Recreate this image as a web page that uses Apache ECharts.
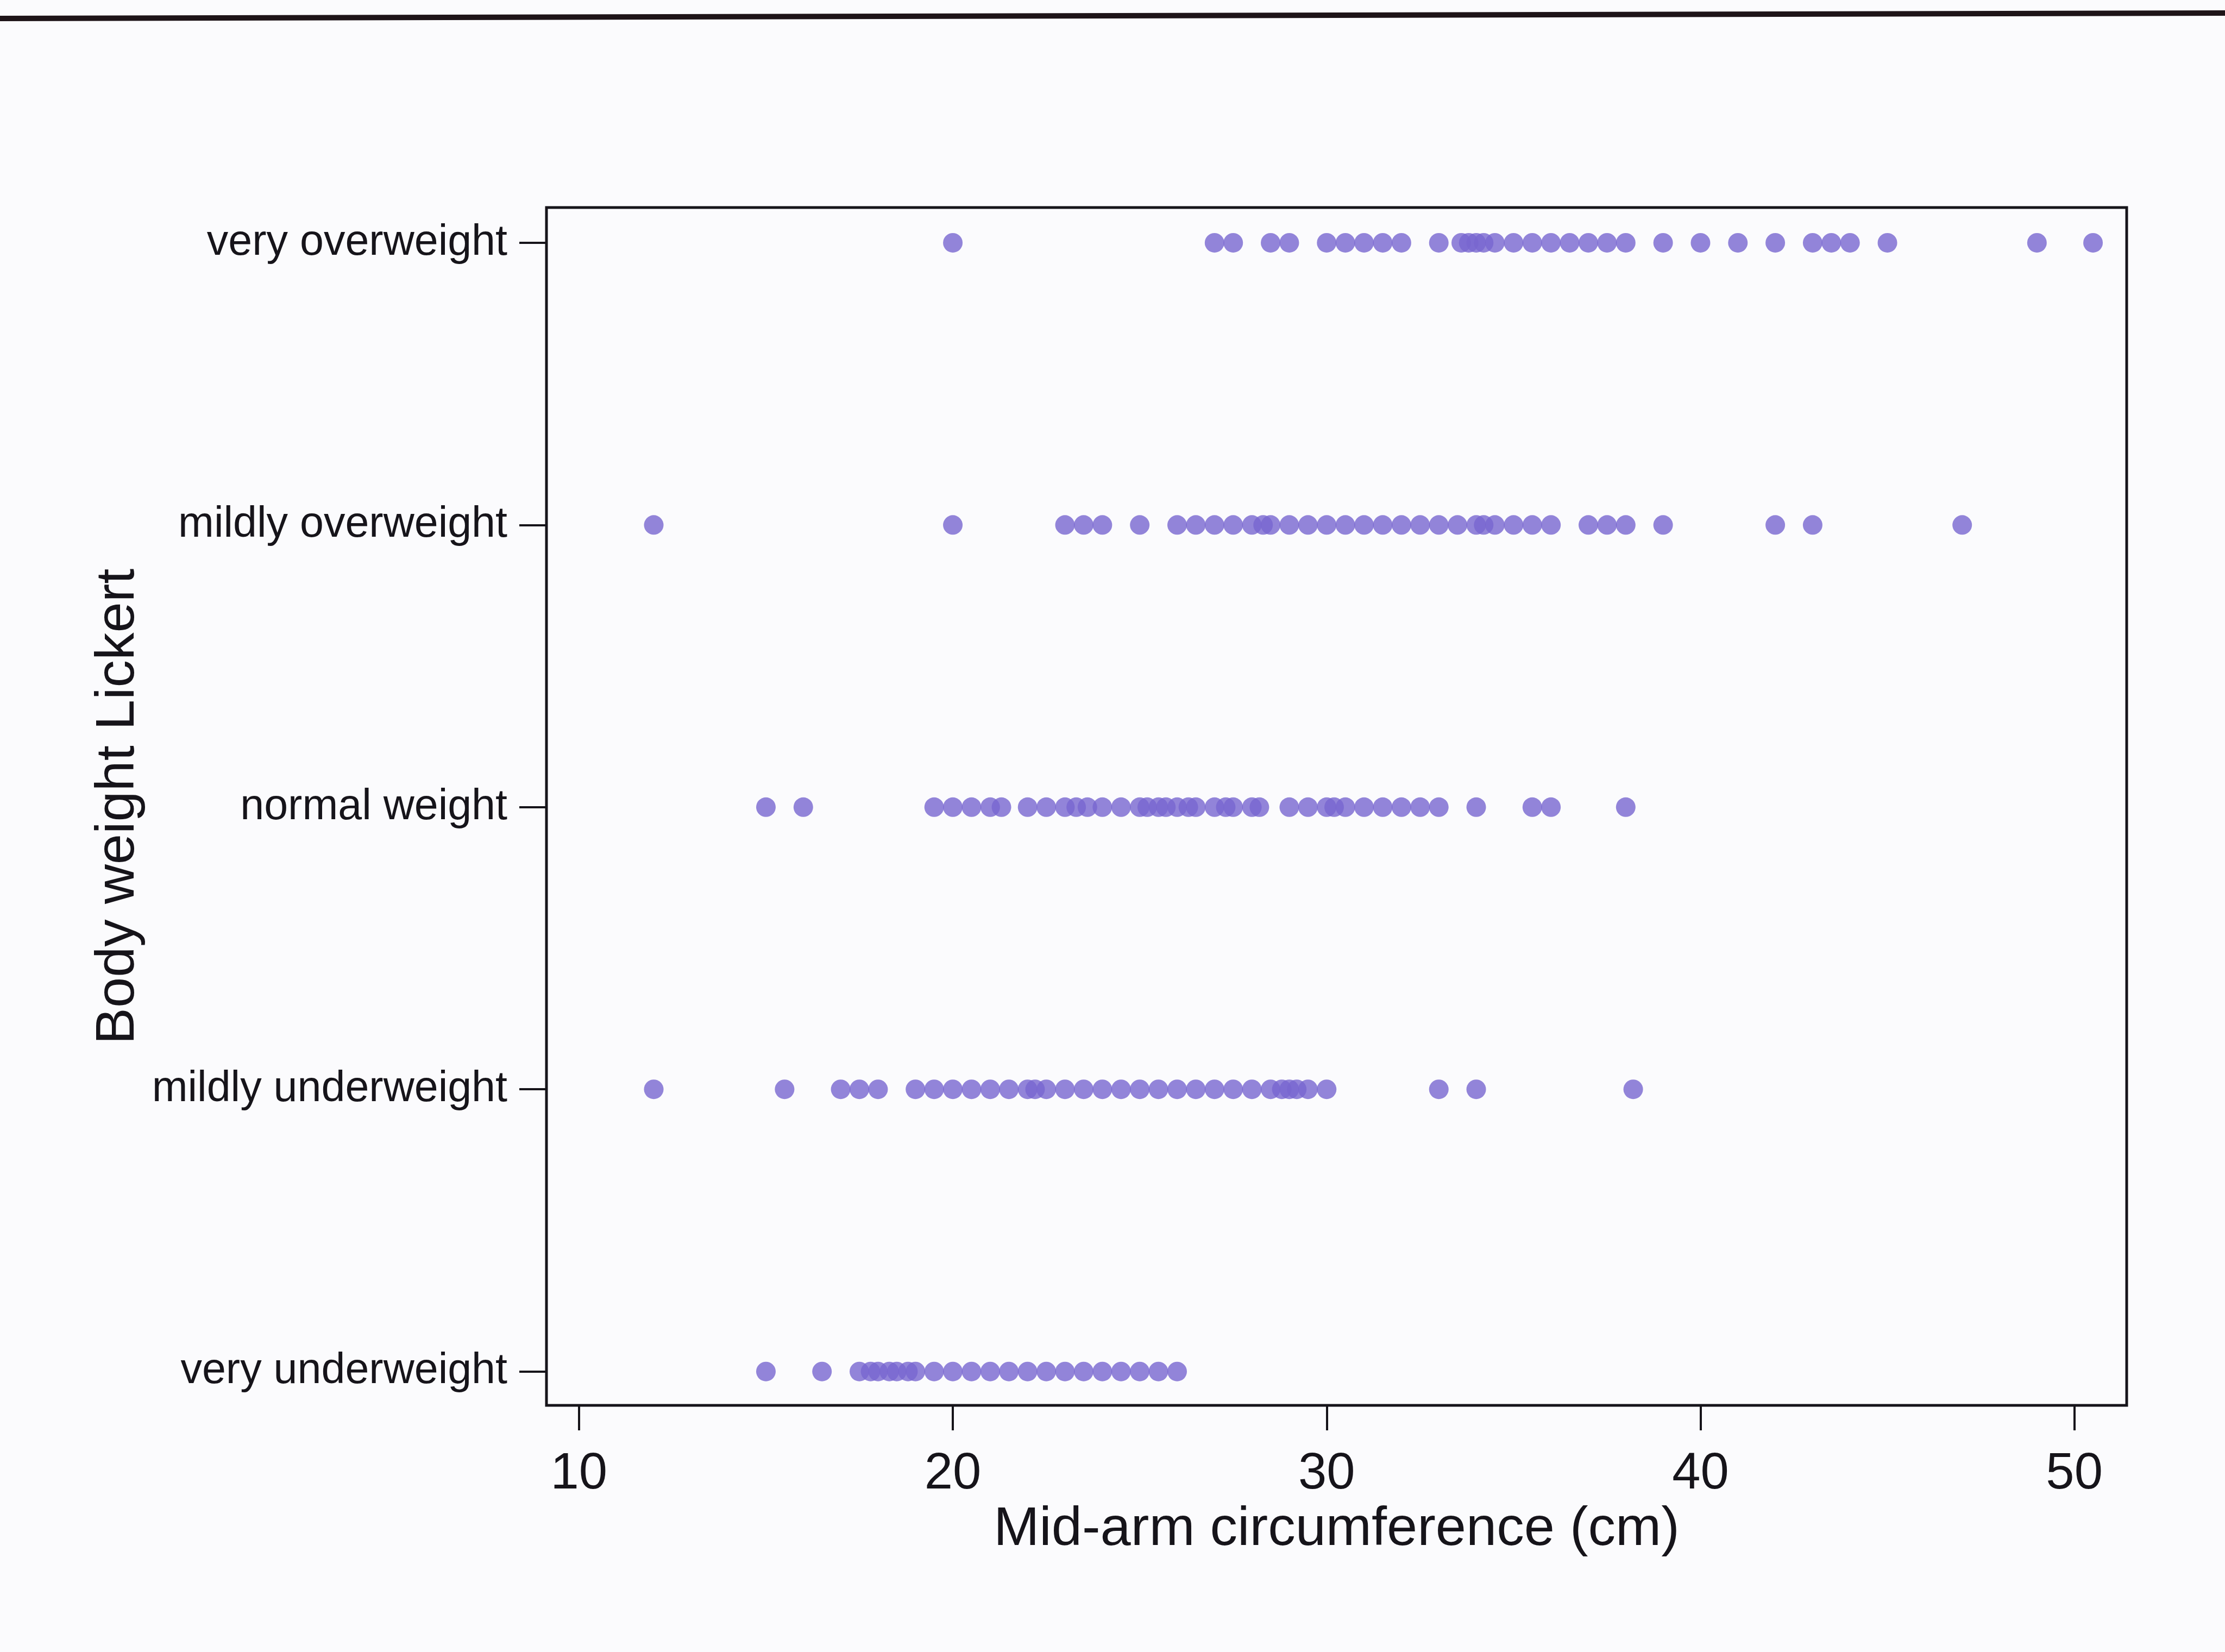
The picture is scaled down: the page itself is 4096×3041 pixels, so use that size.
<!DOCTYPE html>
<html>
<head>
<meta charset="utf-8">
<script src="https://cdn.jsdelivr.net/npm/echarts@6/dist/echarts.min.js"></script>
<style>
  html, body { margin: 0; padding: 0; background: #fbfbfd; }
  #main { width: 4096px; height: 3041px; }
</style>
</head>
<body>
<div id="main"></div>
<script>
// y levels, bottom to top
const categories = ['very underweight', 'mildly underweight', 'normal weight', 'mildly overweight', 'very overweight'];
const xTicks = [10, 20, 30, 40, 50];

// mid-arm circumference (cm) per level
const veryUnderweight = [15, 16.5, 17.5, 17.8, 18, 18.3, 18.5, 18.8, 19, 19.5, 20, 20.5, 21, 21.5, 22, 22.5, 23, 23.5, 24, 24.5, 25, 25.5, 26];
const mildlyUnderweight = [12, 15.5, 17, 17.5, 18, 19, 19.5, 20, 20.5, 21, 21.5, 22, 22.2, 22.5, 23, 23.5, 24, 24.5, 25, 25.5, 26, 26.5, 27, 27.5, 28, 28.5, 28.8, 29, 29.2, 29.5, 30, 33, 34, 38.2];
const normalWeight = [15, 16, 19.5, 20, 20.5, 21, 21.3, 22, 22.5, 23, 23.3, 23.6, 24, 24.5, 25, 25.2, 25.5, 25.7, 26, 26.3, 26.5, 27, 27.3, 27.5, 28, 28.2, 29, 29.5, 30, 30.2, 30.5, 31, 31.5, 32, 32.5, 33, 34, 35.5, 36, 38];
const mildlyOverweight = [12, 20, 23, 23.5, 24, 25, 26, 26.5, 27, 27.5, 28, 28.3, 28.5, 29, 29.5, 30, 30.5, 31, 31.5, 32, 32.5, 33, 33.5, 34, 34.2, 34.5, 35, 35.5, 36, 37, 37.5, 38, 39, 42, 43, 47];
const veryOverweight = [20, 27, 27.5, 28.5, 29, 30, 30.5, 31, 31.5, 32, 33, 33.6, 33.8, 34, 34.2, 34.5, 35, 35.5, 36, 36.5, 37, 37.5, 38, 39, 40, 41, 42, 43, 43.5, 44, 45, 49, 50.5];

const rows = [veryUnderweight, mildlyUnderweight, normalWeight, mildlyOverweight, veryOverweight];
const points = [];
rows.forEach((vals, i) => vals.forEach(v => points.push([v, i + 1])));

const ink = '#16141a';
const myChart = echarts.init(document.getElementById('main'));
myChart.setOption({
  backgroundColor: '#fbfbfd',
  animation: false,
  grid: {
    left: 1006, right: 181, top: 382, bottom: 454,
    show: true, borderColor: ink, borderWidth: 5, backgroundColor: 'transparent'
  },
  xAxis: {
    type: 'value',
    min: 9.13,
    max: 51.4,
    name: 'Mid-arm circumference (cm)',
    nameLocation: 'middle',
    nameGap: 168,
    nameTextStyle: { fontFamily: 'Liberation Sans', fontSize: 101, color: ink },
    axisLine: { show: false },
    axisTick: { show: true, customValues: xTicks, length: 46, lineStyle: { color: ink, width: 4 } },
    axisLabel: { customValues: xTicks, margin: 80, fontFamily: 'Liberation Sans', fontSize: 94, color: ink },
    splitLine: { show: false }
  },
  yAxis: {
    type: 'value',
    min: 0.88,
    max: 5.125,
    name: 'Body weight Lickert',
    nameLocation: 'middle',
    nameGap: 734,
    nameTextStyle: { fontFamily: 'Liberation Sans', fontSize: 101, color: ink },
    axisLine: { show: false },
    axisTick: { show: true, customValues: [1, 2, 3, 4, 5], length: 50, lineStyle: { color: ink, width: 4 } },
    axisLabel: {
      customValues: [1, 2, 3, 4, 5],
      margin: 72,
      fontFamily: 'Liberation Sans',
      fontSize: 79,
      color: ink,
      formatter: v => categories[Math.round(v) - 1]
    },
    splitLine: { show: false }
  },
  // page rule along the top of the scan
  graphic: [{
    type: 'line',
    shape: { x1: 0, y1: 34, x2: 4096, y2: 24 },
    style: { stroke: '#1e1418', lineWidth: 10 }
  }],
  series: [{
    type: 'scatter',
    data: points,
    symbol: 'circle',
    symbolSize: 36,
    itemStyle: { color: '#7867cf' }
  }]
});
</script>
</body>
</html>
